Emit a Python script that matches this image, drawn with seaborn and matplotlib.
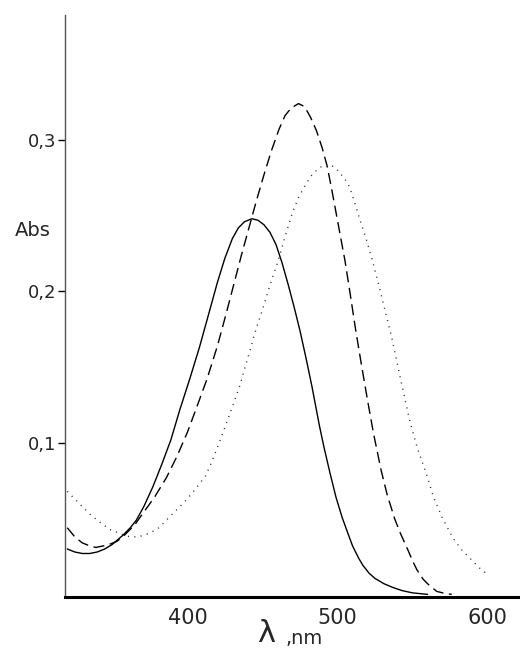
import matplotlib
matplotlib.use("Agg")
import matplotlib.pyplot as plt
import seaborn as sns
import pandas as pd

# Absorption spectra, wavelength (nm) vs absorbance
wl_solid = [320, 325, 330, 335, 340, 345, 350, 357, 362, 366, 371, 377, 383, 389,
            395, 401.5, 408, 415, 420, 425, 430, 434, 438, 443, 447, 451, 455,
            459, 463, 467, 471, 475, 479, 483, 488, 491, 495, 499, 503, 507,
            510, 514, 517, 521, 525, 531, 537, 543, 550, 560]
abs_solid = [0.030, 0.028, 0.027, 0.027, 0.028, 0.030, 0.033, 0.039, 0.044, 0.049,
             0.058, 0.071, 0.086, 0.102, 0.122, 0.142, 0.163, 0.188, 0.206, 0.222,
             0.235, 0.242, 0.246, 0.248, 0.247, 0.244, 0.239, 0.231, 0.219, 0.205,
             0.190, 0.174, 0.156, 0.137, 0.111, 0.097, 0.080, 0.064, 0.051, 0.040,
             0.032, 0.024, 0.019, 0.014, 0.0105, 0.007, 0.0045, 0.0025, 0.001,
             0.000]

wl_dash = [320, 325, 330, 335, 339, 344, 348, 353, 357, 361, 365, 370, 378, 386,
           393, 400, 406, 413, 420, 426, 431, 436, 441, 446, 451, 456, 461, 465,
           469, 474, 478, 482, 486, 490, 493, 496, 499, 502, 505, 508, 512, 516,
           520, 524, 529, 533, 538, 542, 547, 550, 553, 557, 560, 566, 572, 576]
abs_dash = [0.044, 0.038, 0.034, 0.032, 0.031, 0.032, 0.033, 0.035, 0.038, 0.042,
            0.046, 0.053, 0.064, 0.077, 0.091, 0.107, 0.123, 0.142, 0.164, 0.186,
            0.205, 0.224, 0.242, 0.260, 0.277, 0.293, 0.307, 0.316, 0.321, 0.324,
            0.322, 0.315, 0.306, 0.294, 0.283, 0.268, 0.252, 0.236, 0.220, 0.201,
            0.175, 0.151, 0.128, 0.106, 0.082, 0.066, 0.050, 0.040, 0.029, 0.022,
            0.016, 0.010, 0.007, 0.002, 0.0005, 0.000]

wl_dot = [320, 325, 330, 335, 340, 344, 348, 353, 358, 362, 367, 371, 376, 381,
          386, 390, 394, 398, 401.5, 405, 408, 412, 416, 420, 426, 430, 435, 439,
          442, 446, 450, 454, 457, 461, 465, 470, 474, 479, 483, 486, 490, 494,
          498, 501, 505, 508, 511, 515, 519, 523, 526, 530, 536, 542, 548, 553,
          559, 564, 570, 577, 583, 590, 595, 600]
abs_dot = [0.068, 0.063, 0.058, 0.053, 0.049, 0.046, 0.043, 0.041, 0.039, 0.038,
           0.038, 0.039, 0.041, 0.044, 0.049, 0.053, 0.057, 0.061, 0.065, 0.069,
           0.073, 0.078, 0.087, 0.097, 0.113, 0.124, 0.138, 0.152, 0.162, 0.176,
           0.188, 0.201, 0.210, 0.222, 0.236, 0.252, 0.262, 0.271, 0.277, 0.280,
           0.283, 0.284, 0.282, 0.279, 0.274, 0.269, 0.260, 0.247, 0.235, 0.221,
           0.210, 0.194, 0.170, 0.142, 0.115, 0.097, 0.080, 0.064, 0.050, 0.037,
           0.029, 0.022, 0.017, 0.013]

x_ticks = [400, 500, 600]
y_ticks = [0.1, 0.2, 0.3]
y_ticklabels = ["0,1", "0,2", "0,3"]

sns.set_theme(style="white")
plt.rcParams["font.family"] = ["DejaVu Sans"]

fig = plt.figure(figsize=(5.2, 6.51), dpi=100)
ax = fig.add_axes([0.125, 0.083, 0.875, 0.894])

solid = pd.DataFrame({"wl": wl_solid, "A": abs_solid})
dash = pd.DataFrame({"wl": wl_dash, "A": abs_dash})
dot = pd.DataFrame({"wl": wl_dot, "A": abs_dot})

sns.lineplot(data=solid, x="wl", y="A", ax=ax, color="black", lw=1.0,
             linestyle="-", sort=False)
sns.lineplot(data=dash, x="wl", y="A", ax=ax, color="black", lw=1.0,
             sort=False)
ax.lines[-1].set_dashes([8, 4])
sns.lineplot(data=dot, x="wl", y="A", ax=ax, color="#333333", lw=1.0,
             sort=False)
ax.lines[-1].set_dashes([0.8, 3.8])

ax.set_xlim(318.5, 621.5)
ax.set_ylim(-0.0017, 0.3825)

ax.set_xticks(x_ticks)
ax.set_xticklabels([str(t) for t in x_ticks], fontsize=15)
ax.set_yticks(y_ticks)
ax.set_yticklabels(y_ticklabels, fontsize=13)

ax.tick_params(axis="x", direction="in", length=5, width=1, color="black",
               pad=8)
ax.tick_params(axis="y", direction="out", length=5, width=1, color="black",
               pad=1, left=True)

for side in ("top", "right"):
    ax.spines[side].set_visible(False)
ax.spines["bottom"].set_linewidth(2.2)
ax.spines["bottom"].set_color("black")
ax.spines["left"].set_linewidth(1.0)
ax.spines["left"].set_color("#555555")

ax.set_ylabel("Abs", rotation=0, fontsize=14, ha="center", va="center")
ax.yaxis.set_label_coords(-0.07, 0.63)

ax.set_xlabel("λ", fontsize=22, va="top")
ax.xaxis.set_label_coords(0.442, -0.038)
ax.text(0.485, -0.088, ",nm", transform=ax.transAxes, fontsize=14,
        ha="left", va="bottom")

fig.savefig("out.png", dpi=100)
